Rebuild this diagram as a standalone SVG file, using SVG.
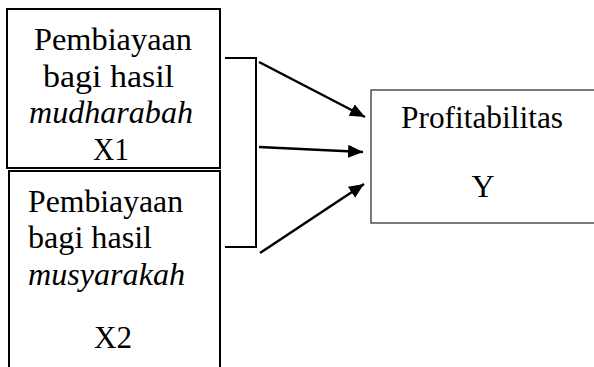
<svg xmlns="http://www.w3.org/2000/svg" width="594" height="367" viewBox="0 0 594 367">
  <style>
    .box { fill: #fff; stroke: #000; stroke-width: 2; }
    .thin { fill: #fff; stroke: #222; stroke-width: 1.2; }
    .t { font-family: "Liberation Serif", serif; font-size: 32px; fill: #000; }
    .it { font-style: italic; }
    .mid { text-anchor: middle; }
    .wire { fill: none; stroke: #000; stroke-width: 2; }
    .arrow { fill: none; stroke: #000; stroke-width: 2.5; marker-end: url(#head); }
  </style>
  <defs>
    <marker id="head" markerUnits="userSpaceOnUse" markerWidth="16" markerHeight="14" refX="15" refY="6.5" orient="auto">
      <path d="M0,0 L15,6.5 L0,13 Z" fill="#000"/>
    </marker>
  </defs>
  <rect width="594" height="367" fill="#fff"/>

  <g id="x1">
    <rect class="box" x="7" y="9" width="213" height="159"/>
    <text class="t" x="34" y="50" textLength="158" lengthAdjust="spacingAndGlyphs">Pembiayaan</text>
    <text class="t" x="43" y="87" textLength="131" lengthAdjust="spacingAndGlyphs">bagi hasil</text>
    <text class="t it" x="29" y="123" textLength="164" lengthAdjust="spacingAndGlyphs">mudharabah</text>
    <text class="t" x="93" y="160" textLength="36" lengthAdjust="spacingAndGlyphs">X1</text>
  </g>

  <g id="x2">
    <rect class="box" x="9" y="171" width="211" height="210"/>
    <text class="t" x="28" y="212" textLength="155" lengthAdjust="spacingAndGlyphs">Pembiayaan</text>
    <text class="t" x="28" y="248" textLength="124" lengthAdjust="spacingAndGlyphs">bagi hasil</text>
    <text class="t it" x="28" y="285" textLength="157" lengthAdjust="spacingAndGlyphs">musyarakah</text>
    <text class="t" x="94" y="348" textLength="38" lengthAdjust="spacingAndGlyphs">X2</text>
  </g>

  <g id="y">
    <rect class="thin" x="371" y="90" width="240" height="133"/>
    <text class="t" x="401" y="128" textLength="162" lengthAdjust="spacingAndGlyphs">Profitabilitas</text>
    <text class="t mid" x="483" y="197">Y</text>
  </g>

  <g id="connectors">
    <path class="wire" d="M225,58 H256 V247 H225"/>
    <line class="arrow" x1="259" y1="62" x2="365" y2="117"/>
    <line class="arrow" x1="259" y1="147" x2="363" y2="152"/>
    <line class="arrow" x1="260" y1="253" x2="364" y2="184"/>
  </g>
</svg>
